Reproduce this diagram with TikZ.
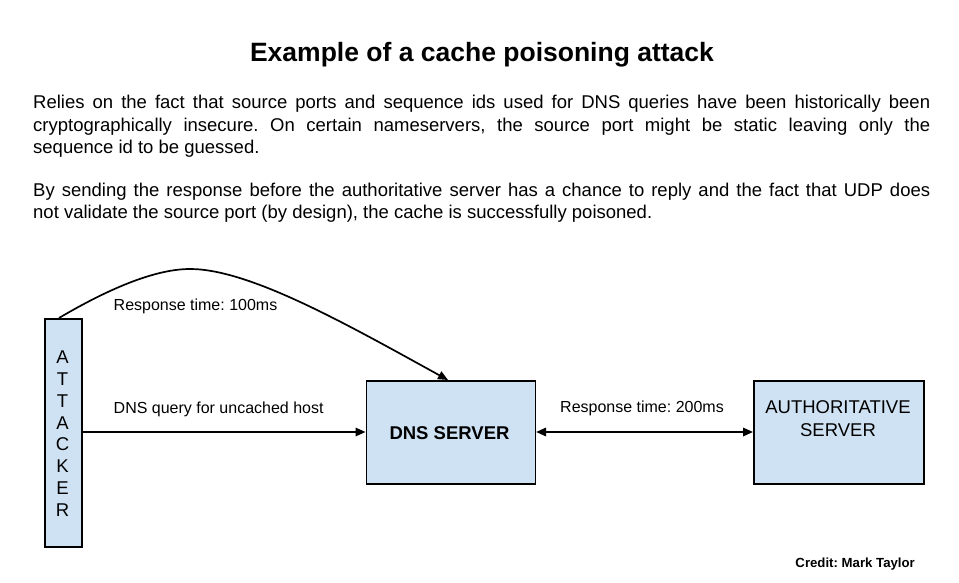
\documentclass[tikz,border=0pt]{standalone}
\usepackage{fontspec}
\setmainfont{Liberation Sans}
\usetikzlibrary{arrows.meta}
\definecolor{boxfill}{HTML}{CFE2F3}
\frenchspacing
\begin{document}
\begin{tikzpicture}[x=1pt,y=-1pt,
  boxst/.style={draw=black, line width=1.6pt, fill=boxfill},
  body/.style={inner sep=0pt, font=\fontsize{18.5}{22}\selectfont},
  lbl/.style={inner sep=0pt, font=\fontsize{16}{19}\selectfont},
  letter/.style={inner sep=0pt, font=\fontsize{18.5}{22}\selectfont, anchor=base},
  conn/.style={line width=1.7pt, -{Triangle[length=10pt,width=8.5pt]}},
]
\useasboundingbox (0,0) rectangle (959,583);
\fill[white] (0,0) rectangle (959,583);

% title
\node[inner sep=0pt, anchor=base, font=\fontsize{26.5}{30}\selectfont\bfseries] (title) at (482,61.7) {Example of a cache poisoning attack};

% paragraph text
\node[body, anchor=base west] (p1a) at (33,109) {\makebox[897pt][s]{Relies on the fact that source ports and sequence ids used for DNS queries have been historically been}};
\node[body, anchor=base west] (p1b) at (33,131.5) {\makebox[897pt][s]{cryptographically insecure. On certain nameservers, the source port might be static leaving only the}};
\node[body, anchor=base west] (p1c) at (33,153.5) {sequence id to be guessed.};
\node[body, anchor=base west] (p2a) at (33,196.5) {\makebox[897pt][s]{By sending the response before the authoritative server has a chance to reply and the fact that UDP does}};
\node[body, anchor=base west] (p2b) at (33,218.5) {not validate the source port (by design), the cache is successfully poisoned.};

% boxes
\node[boxst, minimum width=37pt, minimum height=228pt, anchor=north west, inner sep=0pt] (att) at (44,318) {};
\node[boxst, minimum width=169pt, minimum height=103pt, anchor=north west, inner sep=0pt] (dns) at (365.5,380) {};
\node[inner sep=0pt, anchor=base, font=\fontsize{18.5}{22}\selectfont\bfseries] (dnst) at (449.5,439.5) {DNS SERVER};
\node[boxst, minimum width=170pt, minimum height=103pt, anchor=north west, inner sep=0pt] (auth) at (753,380) {};
\node[inner sep=0pt, anchor=base, font=\fontsize{18.5}{22}\selectfont] (autht1) at (838,413) {AUTHORITATIVE};
\node[inner sep=0pt, anchor=base, font=\fontsize{18.5}{22}\selectfont] (autht2) at (838,436) {SERVER};

% attacker letters
\foreach \c [count=\i from 0] in {A,T,T,A,C,K,E,R} {
  \node[letter] (L\i) at (62.5,{363.3+21.9*\i}) {\c};
}

% connectors
\coordinate (cs) at (59,318);
\coordinate (cp) at (190,269);
\coordinate (ce) at (448,380);
\draw[conn] (cs) .. controls (98,295) and (150,269) .. (cp)
   .. controls (250,269) and (348,325) .. (ce);

\draw[conn] (att.east |- 0,432) -- (dns.west |- 0,432);
\draw[line width=1.7pt, {Triangle[length=10pt,width=8.5pt]}-{Triangle[length=10pt,width=8.5pt]}] (dns.east |- 0,432) -- (auth.west |- 0,432);

% labels
\node[lbl, anchor=base west] (l100) at (113.5,310) {Response time: 100ms};
\node[lbl, anchor=base west] (lq) at (113.5,413) {DNS query for uncached host};
\node[lbl, anchor=base west] (l200) at (560,412) {Response time: 200ms};

% credit
\node[inner sep=0pt, anchor=base east, font=\fontsize{13.2}{15}\selectfont\bfseries] (credit) at (915,567) {Credit: Mark Taylor};
\end{tikzpicture}
\end{document}
